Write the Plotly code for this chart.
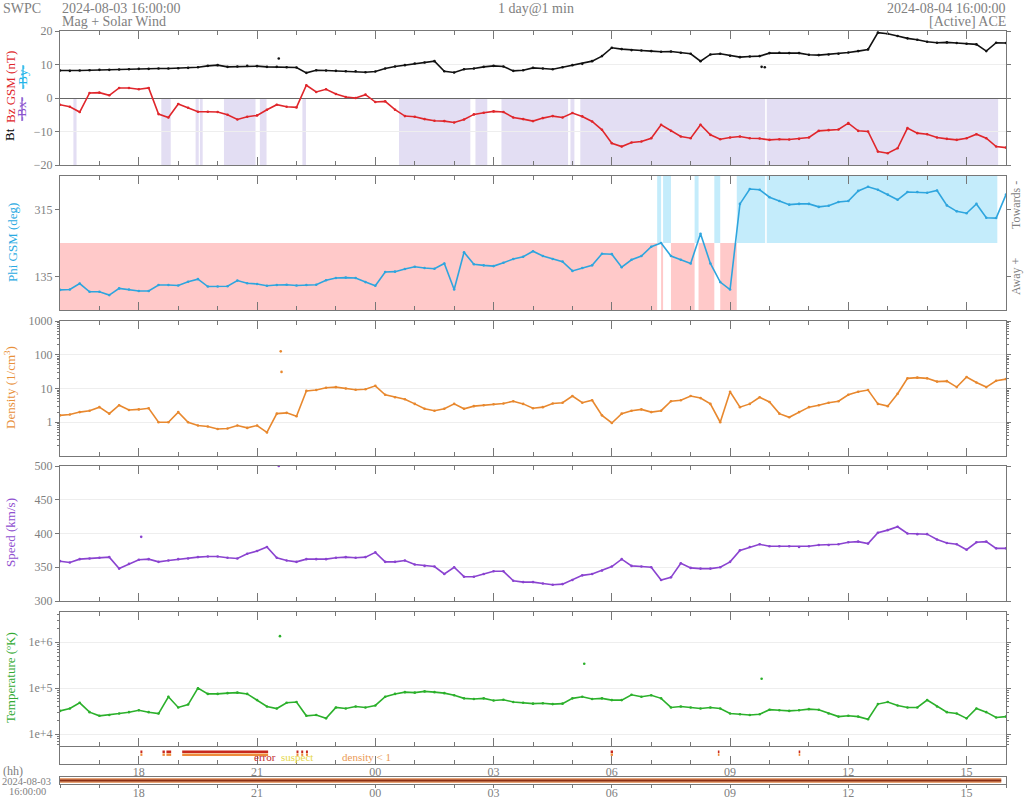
import plotly.graph_objects as go
import pandas as pd

START = pd.Timestamp("2024-08-03 16:00:00")
END = pd.Timestamp("2024-08-04 16:00:00")
times = list(pd.date_range(START, END, freq="15min"))  # 97 samples

# ---------------- data (15-min samples) ----------------
bt = [8.2, 8.1, 8.2, 8.3, 8.4, 8.4, 8.5, 8.6, 8.7, 8.7, 8.8, 8.8,
      8.9, 9.0, 9.2, 9.6, 9.8, 9.3, 9.4, 9.6, 9.5, 9.3, 9.3, 9.2,
      9.1, 7.5, 8.3, 8.2, 8.1, 8.0, 8.0, 7.7, 7.9, 8.8, 9.4, 9.8,
      10.3, 10.6, 11.0, 8.0, 7.6, 8.6, 8.8, 9.3, 9.6, 9.4, 8.1, 8.3,
      9.0, 8.8, 8.6, 9.2, 9.8, 10.2, 11.0, 12.5, 15.0, 14.6, 14.3, 14.2,
      14.0, 13.8, 13.9, 13.5, 13.2, 11.0, 13.0, 13.2, 12.6, 12.2, 12.4, 12.5,
      13.4, 13.5, 13.4, 13.4, 12.9, 12.8, 13.0, 13.2, 13.6, 14.0, 14.5, 19.5,
      19.2, 18.5, 17.8, 17.4, 16.8, 16.5, 16.6, 16.4, 16.2, 16.0, 14.0, 16.5,
      16.4]
bz = [-2.0, -2.6, -4.2, 1.5, 1.6, 0.8, 3.0, 3.0, 2.6, 3.0, -4.8, -5.8,
      -1.8, -2.9, -4.1, -4.1, -4.2, -5.0, -6.4, -5.6, -5.2, -3.5, -2.0, -2.6,
      -2.8, 3.8, 1.8, 2.6, 1.2, 0.3, 0.0, 1.0, -1.2, -1.0, -3.5, -5.4,
      -5.6, -6.3, -6.8, -6.9, -7.3, -6.4, -4.9, -4.4, -4.0, -4.2, -5.8, -6.3,
      -6.9, -6.0, -5.4, -5.8, -4.5, -5.5, -7.0, -9.5, -13.5, -14.5, -13.3, -13.0,
      -12.0, -8.0, -9.8, -11.5, -12.0, -8.0, -11.0, -12.3, -11.8, -11.5, -12.0, -12.1,
      -12.5, -12.3, -12.4, -12.2, -11.8, -9.8, -9.6, -9.4, -7.5, -9.8, -10.0, -16.0,
      -16.5, -15.0, -9.0, -10.5, -10.8, -11.8, -12.2, -12.5, -12.0, -10.8, -12.0, -14.5,
      -14.8]
phi = [99, 100, 116, 94, 94, 85, 103, 100, 96, 96, 112, 112,
       111, 121, 128, 108, 108, 109, 124, 117, 115, 110, 112, 113,
       111, 112, 113, 125, 131, 132, 131, 120, 110, 147, 148, 155,
       161, 158, 156, 170, 100, 200, 168, 165, 163, 172, 182, 188,
       203, 190, 182, 175, 150, 158, 165, 196, 195, 160, 180, 190,
       215, 225, 190, 180, 170, 250, 170, 120, 100, 330, 370, 368,
       348, 338, 328, 330, 330, 322, 325, 335, 338, 365, 376, 368,
       355, 341, 362, 362, 360, 366, 326, 310, 305, 330, 293, 292,
       355]
density = [1.6, 1.7, 2.0, 2.2, 2.8, 1.8, 3.2, 2.3, 2.4, 2.6, 1.0, 1.0,
           2.0, 1.0, 0.8, 0.75, 0.63, 0.65, 0.8, 0.68, 0.8, 0.5, 1.8, 1.9,
           1.5, 8.5, 9.0, 10.5, 11.0, 10.0, 9.2, 9.5, 12.0, 6.5, 5.5, 4.8,
           3.5, 2.5, 2.2, 2.5, 3.5, 2.5, 3.0, 3.2, 3.4, 3.6, 4.2, 3.5,
           2.6, 2.8, 3.6, 3.8, 6.0, 3.8, 4.5, 1.6, 0.95, 1.8, 2.2, 2.4,
           2.0, 2.2, 4.2, 4.5, 6.0, 5.2, 3.5, 1.0, 8.0, 2.8, 3.5, 5.5,
           4.0, 1.8, 1.4, 2.0, 2.8, 3.2, 3.8, 4.2, 6.5, 8.0, 9.0, 3.5,
           3.0, 7.0, 20.0, 21.0, 20.0, 16.0, 16.5, 11.0, 22.0, 15.0, 11.0, 17.0,
           19.0]
speed = [359, 357, 362, 363, 364, 365, 348, 355, 361, 362, 358, 360,
         362, 363, 365, 366, 366, 364, 363, 370, 374, 380, 364, 360,
         358, 362, 362, 362, 364, 365, 364, 365, 372, 358, 358, 360,
         354, 352, 351, 340, 350, 336, 336, 340, 344, 344, 330, 328,
         328, 326, 324, 325, 331, 338, 340, 345, 351, 362, 352, 351,
         350, 331, 335, 356, 349, 348, 348, 350, 358, 375, 380, 384,
         381, 381, 381, 380, 381, 383, 383, 384, 387, 388, 385, 401,
         405, 410, 400, 399, 399, 391, 386, 384, 376, 387, 388, 378,
         378]
temp_kK = [32, 36, 48, 30, 25, 26, 28, 30, 33, 30, 28, 65,
           38, 44, 100, 75, 75, 78, 80, 75, 55, 40, 36, 48,
           50, 25, 26, 22, 38, 36, 40, 38, 42, 65, 75, 82,
           80, 85, 82, 78, 70, 60, 58, 60, 54, 56, 50, 48,
           46, 47, 45, 46, 60, 65, 58, 60, 55, 55, 72, 65,
           70, 60, 38, 40, 38, 36, 38, 36, 28, 27, 26, 27,
           34, 33, 32, 33, 35, 34, 28, 24, 25, 24, 21, 45,
           50, 42, 38, 38, 55, 40, 30, 28, 22, 36, 30, 23,
           24]
temperature = [v * 1000 for v in temp_kK]

# isolated outlying points (hours after start, value)
bt_out_h = [5.55, 17.80, 17.88]
bt_out_v = [11.8, 9.3, 9.2]
dens_out_h = [5.60, 5.62]
dens_out_v = [126, 31]
speed_out_h = [2.06, 5.55]
speed_out_v = [395, 500]
temp_out_h = [5.58, 13.30, 17.80]
temp_out_v = [1.36e6, 3.4e5, 1.6e5]

# shaded intervals (hours after start)
bz_shade_h0 = [0.34, 2.57, 3.44, 3.55, 4.16, 5.07, 6.15, 8.60, 10.54, 11.20, 12.95, 13.20, 17.93]
bz_shade_h1 = [0.42, 2.81, 3.52, 3.62, 4.96, 5.24, 6.24, 10.41, 10.84, 12.89, 13.05, 17.89, 23.80]
away_h0 = [0.0, 15.25, 15.50, 16.20, 16.75]
away_h1 = [15.15, 15.30, 16.10, 16.60, 17.17]
toward_h0 = [15.15, 15.30, 16.10, 16.60, 17.17, 17.93]
toward_h1 = [15.25, 15.50, 16.20, 16.75, 17.89, 23.78]

# quality flags (hours after start)
flag_h0 = [2.04, 2.60, 2.70, 3.10, 6.00, 6.12, 6.24, 13.97, 16.69, 18.74]
flag_h1 = [2.09, 2.66, 2.82, 5.28, 6.05, 6.17, 6.29, 14.03, 16.73, 18.78]
coverage_h = [0.0, 23.88]

# ---------------- helpers ----------------
def T(h):
    return START + pd.Timedelta(hours=h)

W, H, L, R = 1024, 799, 60, 18
def px_x(px):
    return (px - L) / (W - L - R)
def px_y(py):
    return 1 - py / H

panels_px = [(31, 165), (176, 310), (321, 456), (466, 601), (612, 746), (746, 764), (777, 784)]
def ydom(p):
    return [1 - p[1] / H, 1 - p[0] / H]

FONT = "Liberation Serif, Times New Roman, serif"
GREY = "#808080"
C_BT, C_BZ, C_PHI = "#111111", "#e0262b", "#2ea5de"
C_DEN, C_SPD, C_TMP = "#e8882e", "#8a43d0", "#2bb02b"

fig = go.Figure()

def add_series(x, y, color, n, mode="lines+markers"):
    fig.add_trace(go.Scatter(x=x, y=y, mode=mode, xaxis=f"x{n}" if n > 1 else "x",
                             yaxis=f"y{n}" if n > 1 else "y",
                             line=dict(color=color, width=1.6),
                             marker=dict(color=color, size=2.6), showlegend=False,
                             hoverinfo="x+y"))

add_series(times, bt, C_BT, 1)
add_series(times, bz, C_BZ, 1)
add_series([T(h) for h in bt_out_h], bt_out_v, C_BT, 1, "markers")
add_series(times, phi, C_PHI, 2)
add_series(times, density, C_DEN, 3)
add_series([T(h) for h in dens_out_h], dens_out_v, C_DEN, 3, "markers")
add_series(times, speed, C_SPD, 4)
add_series([T(h) for h in speed_out_h], speed_out_v, C_SPD, 4, "markers")
add_series(times, temperature, C_TMP, 5)
add_series([T(h) for h in temp_out_h], temp_out_v, C_TMP, 5, "markers")

# flags strip
for yv, col in [(0.68, "#c8281e"), (0.52, "#ee8a3a")]:
    fx, fy = [], []
    for a, b in zip(flag_h0, flag_h1):
        fx += [T(a), T(b), None]
        fy += [yv, yv, None]
    fig.add_trace(go.Scatter(x=fx, y=fy, mode="lines", xaxis="x6", yaxis="y6",
                             line=dict(color=col, width=2.5), showlegend=False, hoverinfo="skip"))

# coverage strip
fig.add_trace(go.Scatter(x=[T(h) for h in coverage_h], y=[0.5, 0.5], mode="lines", xaxis="x7", yaxis="y7",
                         line=dict(color="#e9a577", width=5), showlegend=False, hoverinfo="skip"))
fig.add_trace(go.Scatter(x=[T(h) for h in coverage_h], y=[0.5, 0.5], mode="lines", xaxis="x7", yaxis="y7",
                         line=dict(color="#8c2f14", width=2), showlegend=False, hoverinfo="skip"))

shapes = []
for a, b in zip(bz_shade_h0, bz_shade_h1):
    shapes.append(dict(type="rect", xref="x", yref="y", x0=str(T(a)), x1=str(T(b)), y0=-20, y1=0,
                       fillcolor="#e3def3", line=dict(width=0), layer="below"))
for a, b in zip(away_h0, away_h1):
    shapes.append(dict(type="rect", xref="x2", yref="y2", x0=str(T(a)), x1=str(T(b)), y0=45, y1=225,
                       fillcolor="#ffc9c9", line=dict(width=0), layer="below"))
for a, b in zip(toward_h0, toward_h1):
    shapes.append(dict(type="rect", xref="x2", yref="y2", x0=str(T(a)), x1=str(T(b)), y0=225, y1=405,
                       fillcolor="#c4ecfb", line=dict(width=0), layer="below"))

tickfont = dict(family=FONT, size=12, color=GREY)
xbase = dict(range=[START, END], type="date", showgrid=False, showline=True, linecolor="#777",
             linewidth=1, mirror="ticks", ticks="inside", ticklen=8, tickcolor="#777",
             tick0="2024-08-03 18:00:00", dtick=3 * 3600000, tickformat="%H",
             minor=dict(dtick=3600000, tick0="2024-08-03 16:00:00", ticks="inside", ticklen=4,
                        tickcolor="#777", showgrid=False),
             tickfont=tickfont, showticklabels=False, zeroline=False, automargin=False)
ybase = dict(showline=True, linecolor="#777", linewidth=1, mirror="ticks", ticks="outside",
             ticklen=4, tickcolor="#777", tickfont=tickfont, gridcolor="#eeeeee", zeroline=False,
             automargin=False)

lay = dict(width=W, height=H, margin=dict(l=L, r=R, t=0, b=0, autoexpand=False), paper_bgcolor="white",
           plot_bgcolor="white", showlegend=False, shapes=shapes, font=dict(family=FONT))
for i in range(1, 8):
    xa = dict(xbase)
    xa["domain"] = [0, 1]
    xa["anchor"] = f"y{i}" if i > 1 else "y"
    if i > 1:
        xa["matches"] = "x"
    if i == 6:
        xa["showticklabels"] = True
        xa["mirror"] = False
        xa["ticklabelstandoff"] = -3
    if i == 7:
        xa["showticklabels"] = True
        xa["ticks"] = "outside"
        xa["ticklen"] = 3
        xa["mirror"] = True
        xa["ticklabelstandoff"] = -5
        xa["minor"] = dict(dtick=3600000, tick0="2024-08-03 16:00:00", ticks="outside", ticklen=3,
                           tickcolor="#777", showgrid=False)
    lay["xaxis" if i == 1 else f"xaxis{i}"] = xa

minor_log_d = [m * 10 ** e for e in range(-1, 3) for m in range(2, 10)]
minor_log_t = [m * 10 ** e for e in range(3, 7) for m in range(2, 10)]

y1 = dict(ybase, range=[-20, 20], tickvals=[-20, -10, 0, 10, 20], showgrid=True,
          zeroline=True, zerolinecolor="#666", zerolinewidth=1)
y2 = dict(ybase, range=[45, 405], tickvals=[135, 315], showgrid=False)
y3 = dict(ybase, type="log", range=[-1, 3], tickvals=[1, 10, 100, 1000], ticktext=["1", "10", "100", "1000"],
          showgrid=True, minor=dict(tickvals=minor_log_d, ticks="outside", ticklen=2, tickcolor="#777",
                                    showgrid=False))
y4 = dict(ybase, range=[300, 500], tickvals=[300, 350, 400, 450, 500], showgrid=True)
y5 = dict(ybase, type="log", range=[3.74, 6.66], tickvals=[1e4, 1e5, 1e6], ticktext=["1e+4", "1e+5", "1e+6"],
          showgrid=True, minor=dict(tickvals=minor_log_t, ticks="outside", ticklen=2, tickcolor="#777",
                                    showgrid=False))
y6 = dict(showline=True, linecolor="#777", mirror=True, range=[0, 1], showticklabels=False, ticks="",
          showgrid=False, zeroline=False, automargin=False)
y7 = dict(y6)
for i, ya in enumerate([y1, y2, y3, y4, y5, y6, y7], start=1):
    ya = dict(ya)
    ya["domain"] = ydom(panels_px[i - 1])
    ya["anchor"] = "x" if i == 1 else f"x{i}"
    lay["yaxis" if i == 1 else f"yaxis{i}"] = ya

def ann(text, x, y, color=GREY, size=14, xanchor="left", angle=0):
    return dict(text=text, x=px_x(x), y=px_y(y), xref="paper", yref="paper", showarrow=False,
                xanchor=xanchor, yanchor="middle", textangle=angle, borderpad=0,
                font=dict(family=FONT, size=size, color=color))

anns = [
    ann("SWPC", 2, 8),
    ann("2024-08-03 16:00:00", 61, 8),
    ann("Mag + Solar Wind", 61, 21),
    ann("1 day@1 min", 536, 8, xanchor="center"),
    ann("2024-08-04 16:00:00", 1007, 8, xanchor="right"),
    ann("[Active] ACE", 1007, 21, xanchor="right"),
    ann("Bt", 10, 135, color="#000000", size=13, xanchor="center", angle=-90),
    ann("Bz GSM (nT)", 10, 87, color=C_BZ, size=13, xanchor="center", angle=-90),
    ann('<span style="text-decoration:line-through">-Bx-</span>', 22, 109, color="#8a55d0", size=13,
        xanchor="center", angle=-90),
    ann('<span style="text-decoration:line-through">-By-</span>', 22, 77, color="#22b5ea", size=13,
        xanchor="center", angle=-90),
    ann("Phi GSM (deg)", 12, 243, color="#2aaae2", size=13, xanchor="center", angle=-90),
    ann("Towards -", 1016, 205, size=12, xanchor="center", angle=-90),
    ann("Away +", 1016, 276, size=12, xanchor="center", angle=-90),
    ann("Density (1/cm<sup>3</sup>)", 10, 388, color="#e8903a", size=13, xanchor="center", angle=-90),
    ann("Speed (km/s)", 10, 533, color="#9050d0", size=13, xanchor="center", angle=-90),
    ann("Temperature (ºK)", 10, 678, color="#33aa33", size=13, xanchor="center", angle=-90),
    ann("error", 265, 757, color="#c0282a", size=11, xanchor="center"),
    ann("suspect", 297, 757, color="#e6d84a", size=11, xanchor="center"),
    ann("density &lt; 1", 366, 757, color="#ea9a55", size=11, xanchor="center"),
    ann("(hh)", 2, 771, size=12),
    ann("2024-08-03", 1, 781, size=10.5),
    ann("16:00:00", 8, 791, size=10.5),
]
lay["annotations"] = anns

fig.update_layout(**lay)
fig.write_html("out.html")
